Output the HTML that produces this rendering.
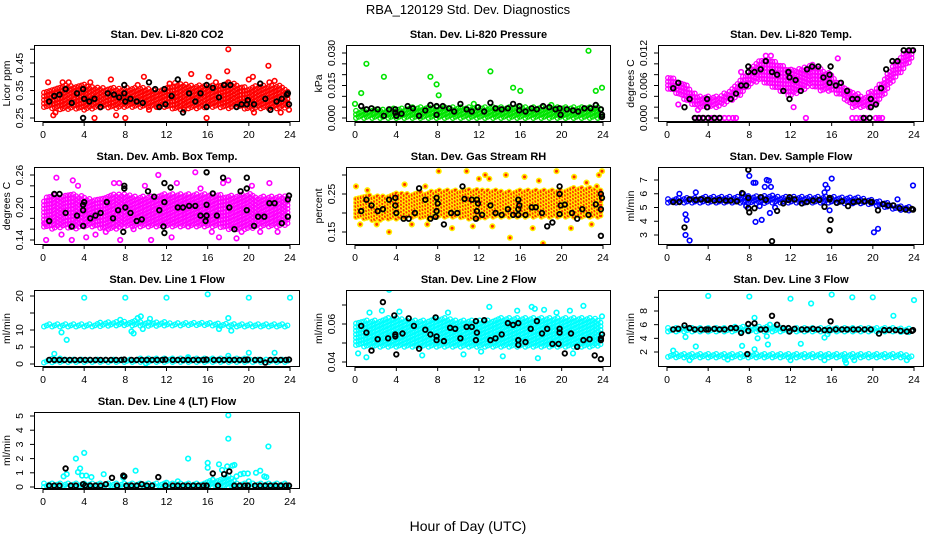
<!DOCTYPE html>
<html><head><meta charset="utf-8"><style>
html,body{margin:0;padding:0;background:#fff;}
svg{display:block;font-family:"Liberation Sans",sans-serif;}
</style></head><body>
<svg id="chart" width="936" height="540" viewBox="0 0 936 540">
<rect width="936" height="540" fill="#fff"/>
<text x="468" y="14" text-anchor="middle" font-size="13">RBA_120129  Std. Dev. Diagnostics</text>
<text x="468" y="531" text-anchor="middle" font-size="14">Hour of Day (UTC)</text>
</svg>
<script>
// ---- data ----
const xTicks = [0,4,8,12,16,20,24];
const co2Lo = [0.29,0.285,0.28,0.285,0.28,0.285,0.29,0.285,0.29,0.29,0.29,0.29,0.29,0.28,0.285,0.285,0.29,0.29,0.285,0.29,0.28,0.285,0.285,0.285,0.29];
const co2Hi = [0.34,0.36,0.37,0.37,0.37,0.36,0.36,0.36,0.36,0.36,0.36,0.35,0.36,0.38,0.37,0.37,0.37,0.37,0.38,0.37,0.36,0.37,0.37,0.37,0.35];
const co2Pts = [[0.5,0.38],[1,0.26],[1.2,0.27],[1.9,0.38],[5,0.25],[6.6,0.39],[7.1,0.26],[8,0.25],[9.8,0.40],[10.3,0.28],[14.4,0.41],[15.9,0.25],[16.1,0.40],[18,0.5],[17.9,0.42],[18,0.38],[20,0.39],[20.4,0.40],[20.5,0.27],[21.9,0.44],[22,0.38],[23.1,0.27],[23.9,0.28],[13.7,0.28],[11.1,0.29],[2.5,0.38],[4.6,0.38],[9.2,0.37],[12.3,0.375],[16.8,0.38],[22.5,0.385]];
const co2Blk = [[0.6,0.31],[1.1,0.33],[1.6,0.335],[2.2,0.355],[2.8,0.305],[3.3,0.34],[3.9,0.355],[3.9,0.25],[4.0,0.32],[4.5,0.31],[5,0.32],[5.6,0.29],[6.3,0.34],[6.9,0.335],[7.4,0.325],[7.9,0.34],[7.9,0.37],[8,0.31],[8.5,0.32],[9.1,0.31],[9.7,0.305],[10.3,0.38],[10.9,0.355],[11.3,0.29],[11.8,0.355],[11.9,0.30],[12.5,0.33],[13.1,0.39],[13.6,0.27],[14.2,0.34],[14.8,0.31],[15.3,0.34],[15.9,0.37],[15.9,0.29],[16.5,0.36],[17.1,0.325],[17.6,0.37],[18.2,0.37],[18.8,0.29],[19.3,0.30],[19.8,0.30],[19.9,0.315],[20.5,0.30],[21.1,0.375],[21.6,0.32],[22.1,0.28],[22.7,0.31],[23.2,0.32],[23.7,0.335],[23.8,0.34],[23.9,0.30]];
const co2Ticks = [0.25,0.30,0.35,0.40,0.45,0.50];
const co2Labels = ["0.25","","0.35","","0.45",""];

const prsLo = [0,0,0,0,0,0,0,0,0,0,0,0,0,0,0,0,0,0,0,0,0,0,0,0,0];
const prsHi = [0.003,0.004,0.004,0.004,0.0045,0.0045,0.005,0.005,0.005,0.005,0.005,0.005,0.005,0.005,0.005,0.005,0.0055,0.005,0.005,0.005,0.005,0.005,0.005,0.005,0.005];
const prsPts = [[1.1,0.025],[0.6,0.0115],[2.8,0.019],[7.3,0.019],[7.9,0.0155],[8.1,0.0105],[13.1,0.0215],[15.3,0.014],[16,0.0125],[22.6,0.031],[23.3,0.0125],[23.9,0.014],[0,0.0065],[11.5,0.0065],[19,0.006]];
const prsBlk = [[0.6,0.0055],[1.1,0.004],[1.6,0.0045],[2.2,0.004],[2.8,0.001],[3.3,0.004],[3.9,0.004],[3.9,0.0025],[4,0.001],[4.5,0.002],[5.1,0.0055],[5.6,0.0045],[6.2,0.001],[6.8,0.0035],[7.3,0.006],[7.9,0.0055],[7.9,0.0015],[8.5,0.0055],[9.1,0.0045],[9.6,0.003],[10.2,0.0065],[10.8,0.004],[11.3,0.003],[11.9,0.005],[12.5,0.003],[13.1,0.007],[13.6,0.0045],[14.2,0.004],[14.8,0.0045],[15.3,0.0065],[15.9,0.0055],[15.9,0.0035],[16.5,0.003],[17.1,0.0045],[17.6,0.004],[18.2,0.0055],[18.8,0.005],[19.4,0.004],[19.8,0.0045],[19.9,0.0015],[20.5,0.004],[21.1,0.0035],[21.6,0.003],[22.2,0.0045],[22.8,0.0045],[23.3,0.006],[23.8,0.004],[23.9,0.0015],[23.9,0.0005]];
const prsTicks = [0,0.005,0.010,0.015,0.020,0.025,0.030];
const prsLabels = ["0.000","","","0.015","","","0.030"];

const tmpLo = [0.0055,0.0045,0.003,0.002,0.002,0.002,0.003,0.004,0.006,0.007,0.006,0.005,0.004,0.005,0.006,0.005,0.005,0.004,0.002,0.002,0.002,0.004,0.007,0.009,0.0115];
const tmpHi = [0.008,0.007,0.006,0.004,0.004,0.004,0.005,0.007,0.009,0.011,0.011,0.010,0.009,0.009,0.010,0.009,0.008,0.006,0.005,0.004,0.005,0.007,0.010,0.012,0.0125];
const tmpPts = [[2.8,0],[3.2,0],[3.6,0],[4.3,0],[4.7,0],[5.2,0],[5.6,0],[6,0],[6.4,0],[6.7,0],[13.5,0],[18,0],[18.4,0],[18.8,0],[19.3,0],[20.3,0],[20.6,0],[20.9,0],[9.6,0.0115],[10.1,0.0115],[16.6,0.011],[7.2,0.0085],[3,0.0015],[1.1,0.0025],[12.3,0.002],[17.7,0.0045]];
const tmpBlk = [[0.6,0.0055],[1.1,0.0065],[1.7,0.002],[2.2,0.0035],[2.7,0],[3.1,0],[3.5,0],[3.9,0.0035],[3.9,0.002],[4,0],[4.6,0],[5.1,0],[6.2,0.0035],[6.7,0.0045],[7.2,0.006],[7.7,0.006],[7.9,0.0085],[7.9,0.0095],[8.5,0.0085],[9.1,0.009],[9.6,0.0105],[10.2,0.0085],[10.7,0.008],[11.3,0.005],[11.8,0.0085],[11.9,0.0075],[11.9,0.0035],[12.5,0.007],[13,0.005],[13.6,0.009],[14.1,0.0095],[14.7,0.0095],[15.2,0.0075],[15.8,0.008],[15.8,0.0065],[15.9,0.0095],[16.4,0.006],[16.9,0.0065],[17.5,0.005],[18,0.0035],[18.5,0.0035],[19.1,0],[19.7,0],[19.8,0.002],[19.8,0.0035],[20.3,0.0025],[20.8,0.0055],[21.3,0.009],[21.9,0.0105],[22.4,0.0105],[23,0.0125],[23.5,0.0125],[23.9,0.0125]];
const tmpTicks = [0,0.002,0.004,0.006,0.008,0.010,0.012];
const tmpLabels = ["0.000","","","0.006","","","0.012"];

const ambLo = [0.165,0.16,0.165,0.16,0.165,0.165,0.16,0.16,0.165,0.165,0.165,0.165,0.165,0.165,0.165,0.165,0.165,0.165,0.16,0.16,0.16,0.165,0.165,0.165,0.17];
const ambHi = [0.215,0.225,0.22,0.225,0.22,0.215,0.22,0.225,0.225,0.22,0.22,0.22,0.225,0.225,0.225,0.225,0.225,0.225,0.22,0.225,0.225,0.22,0.22,0.22,0.22];
const ambPts = [[0.3,0.14],[1.3,0.255],[2.8,0.14],[2.9,0.25],[4.2,0.145],[5.1,0.15],[6.9,0.245],[7.5,0.14],[7.4,0.245],[10.5,0.14],[11.2,0.26],[13,0.245],[14.8,0.265],[12.5,0.145],[17.1,0.145],[17.5,0.245],[18,0.25],[18.8,0.143],[19.3,0.155],[20.3,0.24],[21.1,0.155],[22,0.245],[22.8,0.155],[0.2,0.17],[1.8,0.15],[6.1,0.155],[8.8,0.16],[14.1,0.165],[16.4,0.155],[3.4,0.24],[9.9,0.24],[15.3,0.235]];
const ambBlk = [[0.6,0.175],[1.1,0.225],[1.6,0.225],[2.2,0.19],[2.8,0.165],[3.3,0.185],[3.9,0.195],[3.9,0.205],[4,0.21],[3.9,0.166],[4.6,0.18],[5.1,0.185],[5.6,0.19],[6.2,0.21],[6.8,0.18],[7.3,0.195],[7.9,0.235],[7.9,0.24],[7.8,0.155],[8,0.20],[8.5,0.19],[9.1,0.175],[9.6,0.178],[10.2,0.23],[10.8,0.22],[11.3,0.195],[11.8,0.245],[11.8,0.21],[11.7,0.165],[11.8,0.153],[12.4,0.237],[13.1,0.20],[13.6,0.20],[14.2,0.203],[14.8,0.203],[15.3,0.185],[15.8,0.175],[15.9,0.185],[15.9,0.205],[15.9,0.265],[16.5,0.226],[16.9,0.185],[17.5,0.255],[18.1,0.20],[18.6,0.16],[19.2,0.23],[19.8,0.235],[19.8,0.195],[19.8,0.255],[20.5,0.166],[20.9,0.183],[21.5,0.183],[22,0.208],[22.5,0.208],[23.2,0.171],[23.8,0.183],[23.8,0.215],[23.9,0.222]];
const ambTicks = [0.14,0.16,0.18,0.20,0.22,0.24,0.26];
const ambLabels = ["0.14","","","0.20","","","0.26"];

const rhLo = [0.19,0.185,0.18,0.185,0.185,0.19,0.19,0.185,0.19,0.19,0.19,0.185,0.185,0.19,0.19,0.19,0.19,0.19,0.19,0.19,0.19,0.19,0.19,0.19,0.19];
const rhHi = [0.24,0.245,0.245,0.245,0.25,0.25,0.255,0.255,0.26,0.26,0.26,0.26,0.26,0.26,0.26,0.255,0.26,0.26,0.26,0.26,0.26,0.265,0.265,0.265,0.26];
const rhPts = [[0.1,0.27],[0.5,0.17],[2.1,0.17],[3.3,0.15],[1.2,0.26],[4.8,0.275],[6.8,0.27],[8.1,0.31],[10.8,0.31],[12,0.29],[13,0.29],[14.6,0.3],[15,0.135],[16.4,0.295],[18.2,0.12],[17.8,0.285],[19.5,0.31],[20.9,0.16],[22.4,0.28],[23.4,0.27],[23.6,0.3],[23.9,0.31],[9.4,0.16],[11.4,0.165],[13.3,0.165],[17.2,0.16],[22.9,0.17],[5.5,0.17],[7,0.17],[12.6,0.3],[21.2,0.295]];
const rhBlk = [[0.6,0.205],[1.1,0.235],[1.6,0.22],[2.2,0.205],[2.7,0.21],[3.3,0.235],[3.9,0.24],[3.9,0.22],[4,0.20],[4.7,0.185],[5.2,0.185],[5.8,0.20],[6.2,0.265],[6.8,0.235],[7.3,0.185],[7.9,0.24],[8,0.225],[7.9,0.205],[7.8,0.19],[8.6,0.17],[9.3,0.20],[9.9,0.20],[10.4,0.27],[10.6,0.237],[11.3,0.235],[11.8,0.235],[11.9,0.225],[11.8,0.205],[11.7,0.185],[12.3,0.195],[13.1,0.22],[13.6,0.20],[14.2,0.195],[14.8,0.21],[15.3,0.195],[15.8,0.195],[15.8,0.21],[15.9,0.22],[15.8,0.235],[16.5,0.195],[17.1,0.215],[17.5,0.215],[18.1,0.20],[18.6,0.165],[19.1,0.175],[19.8,0.27],[19.8,0.25],[19.8,0.197],[19.9,0.22],[20.3,0.222],[21,0.20],[21.5,0.185],[22,0.21],[22.6,0.195],[23.3,0.223],[23.8,0.25],[23.9,0.24],[23.8,0.21],[23.8,0.14]];
const rhTicks = [0.15,0.20,0.25,0.30];
const rhLabels = ["0.15","","0.25",""];

const sfLo = [5.35,5.35,5.35,5.35,5.35,5.35,5.35,5.35,5.3,5.3,5.35,5.35,5.35,5.35,5.35,5.35,5.35,5.3,5.3,5.3,5.2,5.05,4.9,4.8,4.75];
const sfHi = [5.6,5.7,5.7,5.75,5.75,5.75,5.75,5.8,5.85,5.85,5.85,5.8,5.8,5.8,5.8,5.8,5.8,5.75,5.75,5.7,5.6,5.4,5.2,5.1,5.0];
const sfPts = [[1.8,4.5],[1.9,4.1],[1.8,3],[2.2,2.6],[1.2,6],[2.8,6.1],[8,7.3],[8.4,6.8],[8.6,6.8],[9.5,6.5],[9.7,7],[9.9,6.95],[10.1,6.5],[10,4.6],[9.2,4.1],[8.6,3.95],[15.4,6.65],[15.6,6.4],[16,7.1],[15.8,4.8],[20.1,3.2],[20.5,3.45],[23.9,6.6],[22.4,5.6],[7.4,6],[9,5.1],[10.5,5.0],[15.3,6.1],[7.7,5.1]];
const sfBlk = [[0.6,5.4],[1.2,5.4],[1.7,3.55],[2.2,5.6],[2.8,5.55],[3.3,5.6],[3.9,5.55],[4,5.55],[4.6,5.5],[5.1,5.55],[5.7,5.5],[6.2,5.5],[6.8,5.45],[7.3,6.05],[7.9,7.75],[7.9,5.7],[7.9,4.95],[8,4.65],[8.5,4.95],[9.1,5.75],[9.6,5.55],[10.2,2.55],[10.7,4.75],[11.3,5.3],[11.8,5.55],[11.9,5.75],[12.4,5.6],[13.1,5.3],[13.6,5.4],[14.2,5.5],[14.8,5.55],[15.3,5.05],[15.8,5.6],[15.8,5.7],[15.9,4.1],[15.8,3.35],[16.5,5.35],[17,5.45],[17.6,5.1],[18.1,5.4],[18.6,5.45],[19.2,5.45],[19.8,5.4],[19.9,5.4],[20.5,4.8],[21,5.25],[21.5,5.15],[22,5.15],[22.6,4.95],[23.2,4.85],[23.8,4.9],[23.9,4.85]];
const sfTicks = [3,4,5,6,7];
const sfLabels = ["3","4","5","6","7"];

const l1Lo = [11,11,11,11,11,11,11.2,11.3,11.4,11.3,11.2,11.2,11.3,11.3,11.4,11.4,11.4,11.2,11.1,11,11,11,11,11,11];
const l1Hi = [11.8,11.8,11.8,11.8,11.9,11.9,12.2,12.5,12.6,12.6,12.4,12.2,12.2,12.2,12.2,12.3,12.2,12.0,11.8,11.8,11.7,11.7,11.7,11.8,11.8];
const l1LoB = [0.4,0.5,0.6,0.6,0.6,0.6,0.6,0.6,0.6,0.6,0.6,0.6,0.6,0.6,0.6,0.6,0.6,0.6,0.6,0.6,0.6,0.6,0.6,0.6,0.6];
const l1HiB = [1.3,1.5,1.5,1.5,1.5,1.5,1.5,1.5,1.5,1.5,1.6,1.6,1.6,1.6,1.6,1.6,1.6,1.6,1.6,1.6,1.5,1.5,1.5,1.5,1.5];
const l1Pts = [[4,19.5],[8,19.5],[12,19.5],[16,20.5],[20,19.5],[24,19.5],[1.8,9.3],[2.3,7.1],[1.1,3],[8.6,9.6],[8.8,9],[9.5,14],[9.2,13.5],[18,13.5],[18.3,9.8],[20,3.3],[22.5,3.3],[18,2.4],[14.1,2],[10,0.2],[7.5,13],[10.4,13.3],[9.7,10.3],[17.1,10.3]];
const l1Blk = [[0.6,1.2],[1.1,1.2],[1.6,1.2],[2.1,1.2],[2.6,1.2],[3.1,1.2],[3.6,1.2],[4.1,1.2],[4.6,1.2],[5.1,1.2],[5.6,1.2],[6.1,1.2],[6.6,1.2],[7.1,1.2],[7.6,1.2],[7.9,1.3],[8.6,1.2],[9.1,1.2],[9.6,1.2],[10.1,1.2],[10.6,1.2],[11.1,1.2],[11.6,1.2],[11.9,1.3],[12.6,1.2],[13.1,1.2],[13.6,1.2],[14.1,1.2],[14.6,1.2],[15.1,1.2],[15.6,1.2],[15.9,1.3],[16.6,1.2],[17.1,1.2],[17.6,1.2],[18.1,1.2],[18.6,1.2],[19.1,1.2],[19.6,1.2],[19.9,1.3],[20.6,1.2],[21.1,1.2],[21.6,0.4],[22.1,1.2],[22.6,1.2],[23.1,1.2],[23.6,1.2],[23.9,1.3]];
const l1Ticks = [0,5,10,15,20];
const l1Labels = ["0","5","10","","20"];

const l2Lo = [0.049,0.048,0.048,0.048,0.048,0.048,0.048,0.048,0.048,0.048,0.048,0.048,0.048,0.048,0.048,0.048,0.048,0.048,0.048,0.048,0.048,0.048,0.048,0.048,0.049];
const l2Hi = [0.061,0.062,0.062,0.063,0.063,0.062,0.062,0.062,0.063,0.063,0.062,0.062,0.062,0.062,0.063,0.063,0.063,0.063,0.063,0.063,0.063,0.063,0.063,0.063,0.061];
const l2Pts = [[3.3,0.078],[0.3,0.0445],[1.1,0.0425],[13,0.069],[17.1,0.069],[17.4,0.068],[18.3,0.0675],[22.1,0.0695],[23.4,0.0355],[1.4,0.066],[4.3,0.0665],[9,0.066],[15.7,0.067],[19.5,0.066],[14.3,0.043],[17.7,0.042],[21.1,0.0445],[6.5,0.0435],[10.5,0.044],[12.2,0.0455],[2.6,0.067],[20.8,0.067],[23.9,0.064]];
const l2Blk = [[0.6,0.059],[1.1,0.0555],[1.6,0.046],[2.2,0.052],[2.7,0.0715],[3.2,0.0525],[3.8,0.0645],[3.9,0.0535],[3.9,0.0545],[4,0.044],[4.6,0.055],[5.2,0.063],[5.7,0.059],[6.2,0.047],[6.8,0.057],[7.3,0.0545],[7.8,0.0635],[7.9,0.0515],[7.9,0.0535],[8.6,0.051],[9.2,0.058],[9.7,0.0575],[10.2,0.0525],[10.8,0.0585],[11.3,0.0585],[11.7,0.0615],[11.8,0.0555],[11.7,0.0515],[12.5,0.062],[13.1,0.0515],[13.6,0.0525],[14.2,0.0545],[14.8,0.0605],[15.3,0.0595],[15.8,0.0605],[15.8,0.0515],[15.8,0.049],[16.5,0.0505],[17,0.0575],[17.6,0.0615],[18.1,0.055],[18.6,0.0575],[19.1,0.0495],[19.7,0.0495],[19.8,0.0575],[19.8,0.0555],[20.3,0.0445],[20.9,0.055],[21.5,0.048],[22.1,0.0515],[22.7,0.052],[23.2,0.0435],[23.8,0.0515],[23.8,0.0525],[23.9,0.0545],[23.8,0.0415]];
const l2Ticks = [0.04,0.05,0.06,0.07];
const l2Labels = ["0.04","","0.06",""];

const l3Lo = [5.0,5.0,5.0,5.0,5.0,5.0,5.0,5.0,5.0,5.0,5.0,5.0,5.0,5.0,5.0,5.0,5.0,5.0,5.0,5.0,5.0,5.0,5.0,4.9,4.9];
const l3Hi = [5.5,5.6,5.6,5.6,5.6,5.6,5.6,5.7,5.8,5.7,5.7,5.6,5.6,5.6,5.6,5.6,5.6,5.6,5.6,5.6,5.5,5.5,5.5,5.4,5.4];
const l3LoB = [1.3,1.2,1.2,1.2,1.2,1.2,1.2,1.2,1.2,1.2,1.2,1.2,1.2,1.2,1.2,1.2,1.2,1.2,1.2,1.2,1.2,1.2,1.2,1.2,1.2];
const l3HiB = [1.7,1.7,1.7,1.7,1.7,1.7,1.7,1.7,1.7,1.7,1.7,1.8,1.8,1.7,1.7,1.7,1.7,1.7,1.7,1.7,1.7,1.7,1.7,1.7,1.6];
const l3Pts = [[4,10.2],[8,10.1],[12,9.8],[14,9.1],[16,10.4],[18,10],[20,10],[24,9.6],[22,7.3],[8.5,7],[10,6],[1.8,4.2],[7.3,2.9],[8.5,2.4],[2.8,2.8],[13,3.2],[9.8,3.1],[15.3,4.1],[0.6,2.2],[17.4,0.4],[17.3,0.8],[2.2,0.8],[12,0.8],[15.3,0.8],[5.9,0.9],[18.2,0.8],[23.3,0.8],[8.8,4],[9.7,4.3],[15.6,4.6]];
const l3Blk = [[0.6,5.3],[1.1,5.4],[1.7,5.9],[2.2,5.5],[2.7,5.3],[3.3,5.3],[3.8,5.3],[4,5.3],[4.6,5.4],[5.1,5.3],[5.6,5.3],[6.2,5.5],[6.7,5.5],[7.2,4.8],[7.8,1.7],[7.9,6.1],[7.9,5.1],[8.5,6.2],[9.1,5.3],[9.6,5.3],[10.2,7.3],[10.7,6],[11.3,5.5],[11.8,5.5],[11.9,5.0],[12.4,5.4],[13.1,5.3],[13.6,5.3],[14.2,5.4],[14.7,5.3],[15.3,5.2],[15.9,6.5],[15.8,5.2],[16.4,5.3],[17,5.3],[17.5,5.3],[18.1,5.3],[18.6,5.3],[19.2,5.3],[19.8,5.3],[20.6,4.7],[21.1,5.2],[21.6,5.2],[22.2,5.2],[22.7,5.1],[23.3,5.0],[23.8,5.1],[23.9,5.2]];
const l3Ticks = [2,4,6,8,10];
const l3Labels = ["2","4","6","8",""];

const l4Lo = [0,0,0,0,0,0,0,0,0,0,0,0,0,0,0,0,0,0,0,0,0,0,0,0,0];
const l4Hi = [0.25,0.25,0.25,0.25,0.3,0.25,0.25,0.25,0.25,0.25,0.25,0.25,0.25,0.25,0.25,0.25,0.4,0.6,0.8,0.3,0.25,0.25,0.25,0.25,0.25];
const l4Pts = [[2,0.75],[2.3,0.9],[3.2,2],[3.4,1.05],[3.6,1.3],[3.8,0.8],[4,2.4],[4.2,0.8],[4.7,0.7],[5.9,0.9],[7.8,0.65],[9,1.15],[12,0.3],[13.1,0.4],[14.1,2],[16,1.7],[16,1.35],[16.5,0.5],[17.1,1.6],[17.4,1.2],[17.9,1.45],[18,5.05],[18,3.4],[18.4,1.5],[18.6,1.55],[18.8,0.75],[19.2,0.9],[19.5,0.95],[19.9,0.95],[20,0.4],[20.7,1],[21.1,1.15],[21.5,0.75],[21.9,2.85],[21.7,0.7]];
const l4Blk = [[0.6,0.1],[1.1,0.1],[1.6,0.1],[2.2,1.3],[2.7,0.1],[3.2,0.1],[3.9,0.2],[4.1,0.1],[4.6,0.1],[5.1,0.1],[5.6,0.1],[6.1,0.2],[6.7,0.65],[7.2,0.1],[7.8,0.8],[7.9,0.75],[8.1,0.1],[8.6,0.1],[9.1,0.1],[9.6,0.2],[10.1,0.1],[10.6,0.1],[11.2,0.7],[11.9,0.1],[12.6,0.1],[13.1,0.1],[13.6,0.1],[14.1,0.1],[14.6,0.1],[15.1,0.1],[15.6,0.1],[15.9,0.1],[16.5,0.95],[17,0.1],[17.6,0.9],[18.1,1.1],[18.6,0.1],[19.1,0.1],[19.6,0.1],[19.9,0.1],[20.6,0.1],[21.1,0.1],[21.6,0.1],[22.1,0.1],[22.6,0.1],[23.1,0.1],[23.6,0.1],[23.9,0.1]];
const l4Ticks = [0,1,2,3,4,5];
const l4Labels = ["0","1","2","3","4","5"];

// ---- layout (geometry only) ----
const cols = [{l:34,r:300,x0:43,x24:290},{l:346,r:611,x0:355,x24:603},{l:658,r:924,x0:667,x24:914}];
const rows = [{t:45,b:122},{t:167,b:245},{t:290,b:367},{t:412,b:489}];
const panels = [
 {name:'co2',title:'Stan. Dev. Li-820 CO2',ylab:'Licor ppm',c:0,r:0,col:'#ff0000',v1:0.25,y1:118,v2:0.45,y2:63,bands:[[co2Lo,co2Hi]],pts:co2Pts,blk:co2Blk,ticks:co2Ticks,labels:co2Labels},
 {name:'pressure',title:'Stan. Dev. Li-820 Pressure',ylab:'kPa',c:1,r:0,col:'#00e400',v1:0,y1:118,v2:0.03,y2:53,bands:[[prsLo,prsHi]],pts:prsPts,blk:prsBlk,ticks:prsTicks,labels:prsLabels},
 {name:'li820-temp',title:'Stan. Dev. Li-820 Temp.',ylab:'degrees C',c:2,r:0,col:'#ff00ff',v1:0,y1:118,v2:0.012,y2:53,bands:[[tmpLo,tmpHi]],pts:tmpPts,blk:tmpBlk,ticks:tmpTicks,labels:tmpLabels},
 {name:'amb-box-temp',title:'Stan. Dev. Amb. Box Temp.',ylab:'degrees C',c:0,r:1,col:'#ff00ff',v1:0.14,y1:240,v2:0.26,y2:175,bands:[[ambLo,ambHi]],pts:ambPts,blk:ambBlk,ticks:ambTicks,labels:ambLabels},
 {name:'gas-stream-rh',title:'Stan. Dev. Gas Stream RH',ylab:'percent',c:1,r:1,col:'#ffee00',fill:'#ff3000',v1:0.15,y1:232,v2:0.25,y2:194,bands:[[rhLo,rhHi]],pts:rhPts,blk:rhBlk,ticks:rhTicks,labels:rhLabels},
 {name:'sample-flow',title:'Stan. Dev. Sample Flow',ylab:'ml/min',c:2,r:1,col:'#0000ff',v1:3,y1:235,v2:7,y2:180,bands:[[sfLo,sfHi]],pts:sfPts,blk:sfBlk,ticks:sfTicks,labels:sfLabels},
 {name:'line1-flow',title:'Stan. Dev. Line 1 Flow',ylab:'ml/min',c:0,r:2,col:'#00ffff',v1:0,y1:364,v2:20,y2:296,bands:[[l1Lo,l1Hi],[l1LoB,l1HiB]],pts:l1Pts,blk:l1Blk,ticks:l1Ticks,labels:l1Labels},
 {name:'line2-flow',title:'Stan. Dev. Line 2 Flow',ylab:'ml/min',c:1,r:2,col:'#00ffff',v1:0.04,y1:362,v2:0.06,y2:324,bands:[[l2Lo,l2Hi]],pts:l2Pts,blk:l2Blk,ticks:l2Ticks,labels:l2Labels},
 {name:'line3-flow',title:'Stan. Dev. Line 3 Flow',ylab:'ml/min',c:2,r:2,col:'#00ffff',v1:2,y1:352,v2:8,y2:311,bands:[[l3Lo,l3Hi],[l3LoB,l3HiB]],pts:l3Pts,blk:l3Blk,ticks:l3Ticks,labels:l3Labels},
 {name:'line4-flow',title:'Stan. Dev. Line 4 (LT) Flow',ylab:'ml/min',c:0,r:3,col:'#00ffff',v1:0,y1:487,v2:5,y2:416,bands:[[l4Lo,l4Hi]],pts:l4Pts,blk:l4Blk,ticks:l4Ticks,labels:l4Labels}
];
const NS='http://www.w3.org/2000/svg';
const svg=document.getElementById('chart');
function mk(tag,attrs,parent){const e=document.createElementNS(NS,tag);for(const k in attrs)e.setAttribute(k,attrs[k]);(parent||svg).appendChild(e);return e;}
const defs=mk('defs',{});
panels.forEach((p,pi)=>{
  const C=cols[p.c],R=rows[p.r];
  const X=h=>C.x0+(C.x24-C.x0)*h/24;
  const Y=v=>p.y1+(p.y2-p.y1)*(v-p.v1)/(p.v2-p.v1);
  const g=mk('g',{});
  
  
  const cp=mk('clipPath',{id:'cp'+pi},defs);
  mk('rect',{x:C.l,y:R.t,width:C.r-C.l,height:R.b-R.t},cp);
  const pg=mk('g',{'clip-path':'url(#cp'+pi+')'},g);
  
  
  const ring=(h,v,stroke,sw,fill)=>mk('circle',{cx:X(h).toFixed(1),cy:Y(v).toFixed(1),r:2.3,fill:fill||'none',stroke:stroke,'stroke-width':sw},pg);
  p.bands.forEach(([lo,hi])=>{
    let k=0;
    for(let h=0.1;h<=23.95;h+=0.26){
      const i=Math.min(23,Math.floor(h)),f=h-i;
      const a=lo[i]+(lo[i+1]-lo[i])*f, b=hi[i]+(hi[i+1]-hi[i])*f;
      const ya=Y(a),yb=Y(b);
      const off=(k%3)*1.2;k++;
      for(let y=ya-off;y>=yb-0.5;y-=3.6){
        mk('circle',{cx:X(h).toFixed(1),cy:y.toFixed(1),r:2.3,fill:p.fill||'none',stroke:p.col,'stroke-width':1.3},pg);
      }
    }
  });
  p.pts.forEach(([h,v])=>{ring(h,v,p.col,1.6,p.fill);});
  p.blk.forEach(([h,v])=>{ring(h,v,'#000',1.8);});
  const box=mk('rect',{x:C.l+0.5,y:R.t+0.5,width:C.r-C.l-1,height:R.b-R.t-1,fill:'none',stroke:'#000','stroke-width':1},g);
  
  
  const xa=mk('g',{},g);
  
  
  mk('line',{x1:X(0),x2:X(24),y1:R.b+0.5,y2:R.b+0.5,stroke:'#000'},xa);
  xTicks.forEach(t=>{
    mk('line',{x1:X(t),x2:X(t),y1:R.b,y2:R.b+4,stroke:'#000'},xa);
    const tx=mk('text',{x:X(t),y:R.b+16,'text-anchor':'middle','font-size':10.5},xa);tx.textContent=t;
  });
  const ya=mk('g',{},g);
  
  
  const tk=p.ticks;
  mk('line',{x1:C.l+0.5,x2:C.l+0.5,y1:Y(tk[0]),y2:Y(tk[tk.length-1]),stroke:'#000'},ya);
  tk.forEach((t,i)=>{
    const y=Y(t);
    mk('line',{x1:C.l-4,x2:C.l,y1:y,y2:y,stroke:'#000'},ya);
    if(p.labels[i]){const lx=C.l-11;const tx=mk('text',{x:lx,y:y,'text-anchor':'middle','font-size':10.5,transform:'rotate(-90 '+lx+' '+y+')'},ya);tx.textContent=p.labels[i];}
  });
  const ymid=(R.t+R.b)/2, tlx=C.l-24;
  const yl=mk('text',{x:tlx,y:ymid,'text-anchor':'middle','font-size':10.5,transform:'rotate(-90 '+tlx+' '+ymid+')'},g);
  yl.textContent=p.ylab;
  
  
  const tt=mk('text',{x:(C.l+C.r)/2,y:R.t-7,'text-anchor':'middle','font-size':11,'font-weight':'bold'},g);
  tt.textContent=p.title;
  
  
});
</script>
</body></html>
